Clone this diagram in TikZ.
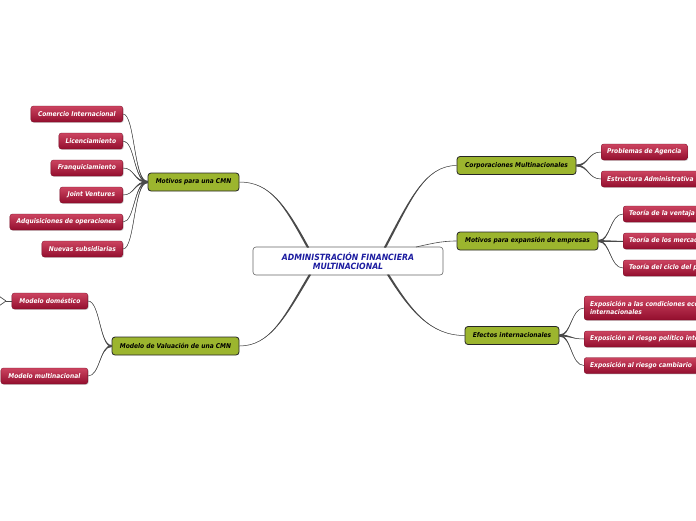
\documentclass[tikz,border=0pt]{standalone}
\usepackage{fontspec}
\newfontfamily\nodefont{DejaVu Sans Condensed}
\usetikzlibrary{shadows}
\definecolor{gfill}{HTML}{9CB52E}
\definecolor{rtop}{HTML}{CC4460}
\definecolor{rbot}{HTML}{930E2E}
\definecolor{ctext}{HTML}{1C1CA0}
\definecolor{conn}{HTML}{4A4A4A}
\tikzset{
  txt/.style={font=\nodefont\fontsize{6.6}{7.4}\selectfont\bfseries\itshape},
  central/.style={font=\nodefont\fontsize{8.6}{9.4}\selectfont\bfseries\itshape,
    draw=gray!80!black, fill=white, rounded corners=3pt,
    minimum width=190pt, minimum height=28pt, text=ctext, align=center, line width=0.6pt},
  topic/.style={txt, draw=black!85, fill=gfill, rounded corners=3pt,
    minimum height=18pt, text=black, line width=0.8pt, inner xsep=4pt},
  leaf/.style={txt, top color=rtop, bottom color=rbot, draw=rbot!80!black, line width=0.3pt,
    rounded corners=2.5pt, minimum height=16pt, text=white, inner xsep=6pt,
    drop shadow={shadow xshift=0.8pt, shadow yshift=-0.8pt, opacity=0.35}},
}
% tapered connector: #1 start, #2 first control (relative), #3 second control (relative to end), #4 end, #5 half width at start
\newcommand{\taper}[5]{%
  \fill[conn] ([yshift=#5]#1) .. controls +#2 and +#3 .. (#4)
     .. controls +#3 and +#2 .. ([yshift=-#5]#1) -- cycle;
  \draw[conn, line width=0.5pt] (#1) .. controls +#2 and +#3 .. (#4);}
\newcommand{\taperx}[5]{%
  \fill[conn] ([xshift=#5]#1) .. controls +#2 and +#3 .. (#4)
     .. controls +#3 and +#2 .. ([xshift=-#5]#1) -- cycle;
  \draw[conn, line width=0.5pt] (#1) .. controls +#2 and +#3 .. (#4);}
\begin{document}
\begin{tikzpicture}[x=1pt,y=-1pt]
\useasboundingbox (0,0) rectangle (696,520);
\clip (0,0) rectangle (696,520);
\fill[white] (0,0) rectangle (696,520);

% central
\node[central] (c) at (348,261) {ADMINISTRACIÓN FINANCIERA\\MULTINACIONAL};

% topics
\node[topic, minimum width=91pt] (t1) at (193.5,182) {Motivos para una CMN};
\node[topic, minimum width=119pt] (t2) at (516.5,165.5) {Corporaciones Multinacionales};
\node[topic, minimum width=141pt] (t3) at (527.5,241) {Motivos para expansión de empresas};
\node[topic, minimum width=94pt] (t4) at (512,335.5) {Efectos internacionales};
\node[topic, minimum width=127pt] (t5) at (175.5,346) {Modelo de Valuación de una CMN};

% leaves left
\node[leaf, anchor=east, minimum width=92pt] (l1) at (123,114) {Comercio Internacional};
\node[leaf, anchor=east, minimum width=64pt] (l2) at (123,141) {Licenciamiento};
\node[leaf, anchor=east, minimum width=72pt] (l3) at (123,168) {Franquiciamiento};
\node[leaf, anchor=east, minimum width=63pt] (l4) at (123,195) {Joint Ventures};
\node[leaf, anchor=east, minimum width=113pt] (l5) at (123,222) {Adquisiciones de operaciones};
\node[leaf, anchor=east, minimum width=81pt] (l6) at (123,249) {Nuevas subsidiarias};

% leaves right of t2
\node[leaf, anchor=west] (r1) at (601,152) {Problemas de Agencia};
\node[leaf, anchor=west] (r2) at (601,179) {Estructura Administrativa};

% leaves of t3
\node[leaf, anchor=west] (s1) at (623,214) {Teoría de la ventaja comparativa};
\node[leaf, anchor=west] (s2) at (623,241) {Teoría de los mercados imperfectos};
\node[leaf, anchor=west] (s3) at (623,268) {Teoría del ciclo del producto};

% leaves of t4
\node[leaf, anchor=west, minimum height=24pt, align=left] (e1) at (584,308) {Exposición a las condiciones económicas\\internacionales};
\node[leaf, anchor=west] (e2) at (584,339) {Exposición al riesgo político internacional};
\node[leaf, anchor=west] (e3) at (584,365.5) {Exposición al riesgo cambiario};

% leaves of t5
\node[leaf, anchor=east, minimum width=76pt] (m1) at (88,301) {Modelo doméstico};
\node[leaf, anchor=east, minimum width=87pt] (m2) at (88,376) {Modelo multinacional};

% central connectors
\coordinate (c1) at (308,247.5);
\coordinate (c2) at (385,247.5);
\coordinate (c3) at (416,247);
\coordinate (c4) at (388,274.5);
\coordinate (c5) at (310,274.5);
\taperx{c1}{(-23,-42)}{(31,0)}{t1.east}{1.2pt}
\taperx{c2}{(25,-47)}{(-32,0)}{t2.west}{1.2pt}
\draw[conn, line width=0.6pt] (c3) .. controls +(14,-3) and +(-16,0) .. (t3.west);
\taperx{c4}{(22,35)}{(-35,0)}{t4.west}{1.2pt}
\taperx{c5}{(-25,42)}{(31,0)}{t5.east}{1.2pt}

% t1 connectors
\foreach \l in {l1,l2,l3,l4,l5,l6}{
  \taper{t1.west}{(-14,0)}{(12,0)}{\l.east}{1pt}
}
% t2
\foreach \l in {r1,r2}{
  \taper{t2.east}{(12,0)}{(-13,0)}{\l.west}{1pt}
}
% t3
\foreach \l in {s1,s2,s3}{
  \taper{t3.east}{(12,0)}{(-13,0)}{\l.west}{1pt}
}
% t4
\foreach \l in {e1,e2,e3}{
  \taper{t4.east}{(12,0)}{(-13,0)}{\l.west}{1pt}
}
% t5
\foreach \l in {m1,m2}{
  \taper{t5.west}{(-12,0)}{(12,0)}{\l.east}{1pt}
}
% stub of m1 children (off picture)
\coordinate (mk) at (6,301);
\coordinate (ma) at (-4,294);
\coordinate (mb) at (-4,308);
\draw[conn, line width=0.9pt] (m1.west) -- (mk);
\draw[conn, line width=0.7pt] (mk) -- (ma);
\draw[conn, line width=0.7pt] (mk) -- (mb);
\end{tikzpicture}
\end{document}
